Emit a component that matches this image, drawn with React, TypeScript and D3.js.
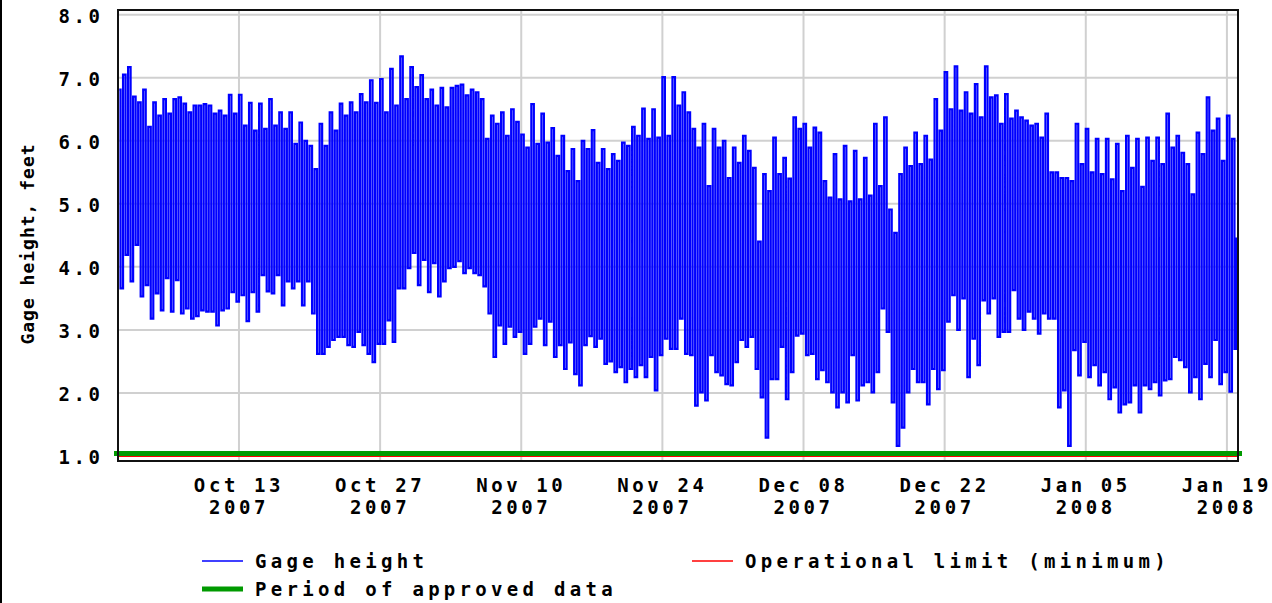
import React from "react";
import * as d3 from "d3";

// ---- Data ----
// Two high tides and two low tides per day, Oct 1 2007 .. Jan 19 2008
const highA = [6.81,7.17,6.61,6.22,6.40,6.43,6.69,6.45,6.56,6.56,6.48,6.73,6.73,6.60,6.59,6.66,6.45,6.45,6.29,5.92,
  6.27,6.45,6.59,6.61,6.74,6.96,6.98,7.14,7.34,7.17,7.04,6.81,6.84,6.84,6.89,6.81,6.66,6.40,6.45,6.50,
  6.10,6.58,6.43,6.20,6.08,5.87,6.00,6.17,5.87,5.79,5.97,6.22,6.51,6.50,7.01,7.01,6.77,6.19,6.27,6.19,
  6.00,5.89,6.08,5.57,5.47,6.05,5.73,6.37,6.27,6.21,5.36,5.79,5.92,5.84,5.73,6.27,6.37,4.54,5.89,6.13,
  6.08,6.66,7.09,7.18,6.77,6.90,7.18,6.72,6.74,6.48,6.32,6.27,6.43,5.50,5.41,6.27,6.19,6.03,6.03,5.95,
  6.08,6.03,6.05,6.05,6.43,6.08,5.63,6.13,6.69,6.35,6.40];
const lowA = [3.66,3.77,3.53,3.18,3.31,3.29,3.26,3.18,3.31,3.29,3.31,3.60,3.55,3.60,3.87,3.58,3.39,3.66,3.39,3.26,
  2.62,2.84,2.89,2.73,2.76,2.49,2.78,2.81,3.66,4.22,4.11,4.06,3.77,4.00,3.90,3.90,3.69,2.57,2.78,2.89,
  2.62,3.05,2.76,2.57,2.38,2.30,2.76,2.73,2.46,2.33,2.17,2.25,2.25,2.04,2.86,2.70,2.62,1.80,1.88,2.33,
  2.14,2.49,2.73,2.38,1.29,2.22,1.90,2.91,2.60,2.22,2.17,1.77,1.85,1.88,2.17,2.33,2.97,1.16,2.01,2.17,
  1.82,2.06,3.13,3.00,2.25,2.44,3.26,2.89,2.97,3.18,3.29,2.94,3.18,1.77,1.16,2.28,2.25,2.12,1.90,1.69,
  1.85,1.69,2.06,1.96,2.22,2.52,2.01,1.90,2.25,2.14,2.02];
const highB = [7.05,6.70,6.81,6.61,6.66,6.66,6.59,6.56,6.58,6.43,6.40,6.43,6.24,6.16,6.19,6.24,6.19,5.95,6.00,5.55,
  5.92,6.16,6.40,6.45,6.61,6.60,6.45,6.56,6.66,6.85,6.66,6.56,6.53,6.87,6.72,6.77,6.03,6.27,6.08,6.30,
  5.89,5.95,5.97,5.76,5.52,5.36,5.87,5.65,5.55,5.68,5.92,6.08,6.03,6.05,6.08,6.56,6.45,5.89,5.28,5.89,
  5.41,5.65,5.84,4.40,5.20,5.47,5.40,6.19,5.89,6.13,5.10,5.07,5.04,5.07,5.13,5.28,4.91,5.47,5.60,5.63,
  5.70,6.16,6.50,6.48,6.43,6.37,6.69,6.27,6.35,6.37,6.24,6.05,5.50,5.41,5.36,5.63,5.50,5.47,5.39,5.20,
  5.57,5.27,5.68,5.63,5.89,5.81,5.15,5.79,6.16,5.68,6.03];
const lowB = [4.19,4.35,3.71,3.58,3.82,3.79,3.34,3.22,3.29,3.07,3.34,3.45,3.14,3.29,3.61,3.87,3.77,3.77,3.77,2.62,
  2.73,2.89,2.76,2.97,2.62,2.78,3.15,3.66,3.98,3.71,3.60,3.53,3.98,4.09,3.98,3.87,3.26,3.07,3.05,2.97,
  2.78,3.18,3.13,2.76,2.80,2.12,2.90,2.86,2.50,2.41,2.38,2.44,2.57,2.60,2.70,3.18,2.60,2.01,2.60,2.28,
  2.12,2.84,2.89,1.93,2.22,2.73,2.33,2.94,2.62,2.36,2.01,2.01,2.60,2.12,2.01,3.34,1.85,1.45,2.38,2.17,
  2.38,2.36,3.55,3.50,2.86,3.47,3.50,2.97,3.63,3.00,3.18,3.26,3.18,2.04,2.68,2.81,2.44,2.33,2.09,1.82,
  2.12,2.12,2.17,2.20,2.57,2.41,2.25,2.46,2.84,2.33,2.70];
const lastReading = 4.45;

const yTicks = [1, 2, 3, 4, 5, 6, 7, 8];
const xTickDates = ["2007-10-13", "2007-10-27", "2007-11-10", "2007-11-24", "2007-12-08", "2007-12-22", "2008-01-05", "2008-01-19"];
const startDate = "2007-10-01";
const endDate = "2008-01-20";
const operationalLimit = 1.0;
const approvedLevel = 1.04;

const legendItems = [
  { label: "Gage height", color: "#0000ff", kind: "line", col: 0, row: 0 },
  { label: "Operational limit (minimum)", color: "#ff0000", kind: "line", col: 1, row: 0 },
  { label: "Period of approved data", color: "#009a00", kind: "bar", col: 0, row: 1 },
];

// ---- Layout ----
const W = 1272, H = 603;
const L = 118, R = 1238, T = 10, B = 461;
const FONT = "'DejaVu Sans Mono', 'Liberation Mono', monospace";

export default function App() {
  const parse = d3.utcParse("%Y-%m-%d");
  const t0 = parse(startDate)!;
  const t1 = parse(endDate)!;
  const x = d3.scaleUtc().domain([t0, t1]).range([L, 1237]);
  const y = d3.scaleLinear().domain([1, 8]).range([456, 14.7]);

  const HOUR = 3600 * 1000;
  const DAY = 24 * HOUR;
  const pts: { t: Date; v: number }[] = [];
  highA.forEach((_, d) => {
    const base = t0.getTime() + d * DAY;
    pts.push({ t: new Date(base + 3 * HOUR), v: highA[d] });
    pts.push({ t: new Date(base + 9 * HOUR), v: lowA[d] });
    pts.push({ t: new Date(base + 15 * HOUR), v: highB[d] });
    pts.push({ t: new Date(base + 21 * HOUR), v: lowB[d] });
  });
  pts.push({ t: new Date(t0.getTime() + highA.length * DAY), v: lastReading });

  const line = d3.line<{ t: Date; v: number }>().x((p) => x(p.t)).y((p) => y(p.v)).curve(d3.curveStep);

  const fmtA = d3.utcFormat("%b %d");
  const fmtB = d3.utcFormat("%Y");
  const ticks = xTickDates.map((s) => parse(s)!);

  const txt: React.CSSProperties = { fontFamily: FONT, fontWeight: "bold", fontSize: 19, letterSpacing: 3.6 };
  const legTxt: React.CSSProperties = { ...txt, letterSpacing: 4.3 };

  return (
    <svg width={W} height={H} style={{ position: "absolute", left: 0, top: 0, background: "#fff" }}>
      <defs>
        <clipPath id="plot">
          <rect x={L} y={T} width={R - L} height={B - T} />
        </clipPath>
      </defs>
      <rect x={0} y={0} width={W} height={H} fill="#fff" />
      <line x1={1} x2={1} y1={0} y2={H} stroke="#000" strokeWidth={2} />
      {/* grid */}
      {yTicks.map((v) => (
        <line key={"gy" + v} x1={L} x2={R} y1={y(v)} y2={y(v)} stroke="#d0d0d0" strokeWidth={2} />
      ))}
      {ticks.map((d, i) => (
        <line key={"gx" + i} x1={x(d)} x2={x(d)} y1={T} y2={B} stroke="#d0d0d0" strokeWidth={2} />
      ))}
      {/* series */}
      <g clipPath="url(#plot)">
        <path d={line(pts) || ""} fill="none" stroke="#0000ff" strokeWidth={2.2} />
      </g>
      <line x1={L} x2={R} y1={y(operationalLimit)} y2={y(operationalLimit)} stroke="#ff0000" strokeWidth={2} />
      <line x1={L - 4} x2={R + 4} y1={y(approvedLevel)} y2={y(approvedLevel)} stroke="#009a00" strokeWidth={5} />
      {/* frame */}
      <rect x={L} y={T} width={R - L} height={B - T} fill="none" stroke="#111" strokeWidth={2} />
      {/* y labels */}
      {yTicks.map((v) => (
        <text key={"ly" + v} x={100 + 3.6} y={y(v) + 8} textAnchor="end" style={txt}>
          {d3.format(".1f")(v)}
        </text>
      ))}
      {/* x labels */}
      {ticks.map((d, i) => (
        <g key={"lx" + i}>
          <text x={x(d)} y={492} textAnchor="middle" style={txt}>{fmtA(d)}</text>
          <text x={x(d)} y={514} textAnchor="middle" style={txt}>{fmtB(d)}</text>
        </g>
      ))}
      {/* y title */}
      <text transform={`translate(34,244) rotate(-90)`} textAnchor="middle"
        style={{ fontFamily: FONT, fontWeight: "bold", fontSize: 18, letterSpacing: 1 }}>
        Gage height, feet
      </text>
      {/* legend */}
      {legendItems.map((it, i) => {
        const lx = it.col === 0 ? 202 : 692;
        const ly = it.row === 0 ? 561 : 589;
        return (
          <g key={"lg" + i}>
            <line x1={lx} x2={lx + 41} y1={ly} y2={ly} stroke={it.color} strokeWidth={it.kind === "line" ? 1.6 : 5} />
            <text x={lx + 53} y={ly + 7} style={legTxt}>{it.label}</text>
          </g>
        );
      })}
    </svg>
  );
}
